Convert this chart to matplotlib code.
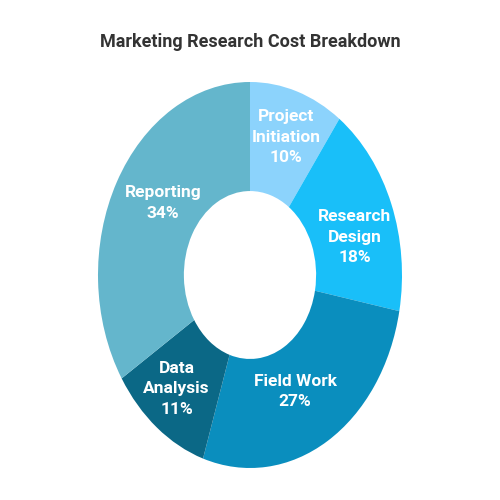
import numpy as np
import matplotlib.pyplot as plt

categories = ['Project\nInitiation', 'Research\nDesign', 'Field Work', 'Data\nAnalysis', 'Reporting']
shares = [10, 18, 27, 11, 34]
colors = ['#8CD3FC', '#19BFF9', '#0A8EBE', '#0B6886', '#64B6CC']
# small hand nudges (points) so the labels sit where the original put them
label_nudge = [(1.5, 3), (1.5, -10), (-8, 3), (-4, -2), (7, 3)]

plt.rcParams['font.family'] = ['Roboto', 'DejaVu Sans']

fig = plt.figure(figsize=(5, 5), dpi=100)
# the reference donut is stretched vertically, so the axes are taller than wide
ax = fig.add_axes([0.196, 0.064, 0.608, 0.772])

hole = 0.435
wedges, _ = ax.pie(shares, colors=colors, startangle=90, counterclock=False,
                   radius=1, wedgeprops=dict(width=1 - hole, linewidth=0))
ax.set_aspect('auto')
ax.set_xlim(-1, 1)
ax.set_ylim(-1, 1)
ax.axis('off')

r_mid = (1 + hole) / 2 + 0.01
for w, name, v, nd in zip(wedges, categories, shares, label_nudge):
    ang = np.deg2rad((w.theta1 + w.theta2) / 2)
    ax.annotate(f'{name}\n{v}%', (r_mid * np.cos(ang), r_mid * np.sin(ang)),
                xytext=nd, textcoords='offset points',
                ha='center', va='center', color='white', fontsize=12.5,
                fontweight='bold', linespacing=1.45)

fig.text(0.5, 0.916, 'Marketing Research Cost Breakdown', ha='center', va='center',
         fontsize=13, fontweight='bold', color='#333333')

fig.savefig('out.png', dpi=100, facecolor='white')
